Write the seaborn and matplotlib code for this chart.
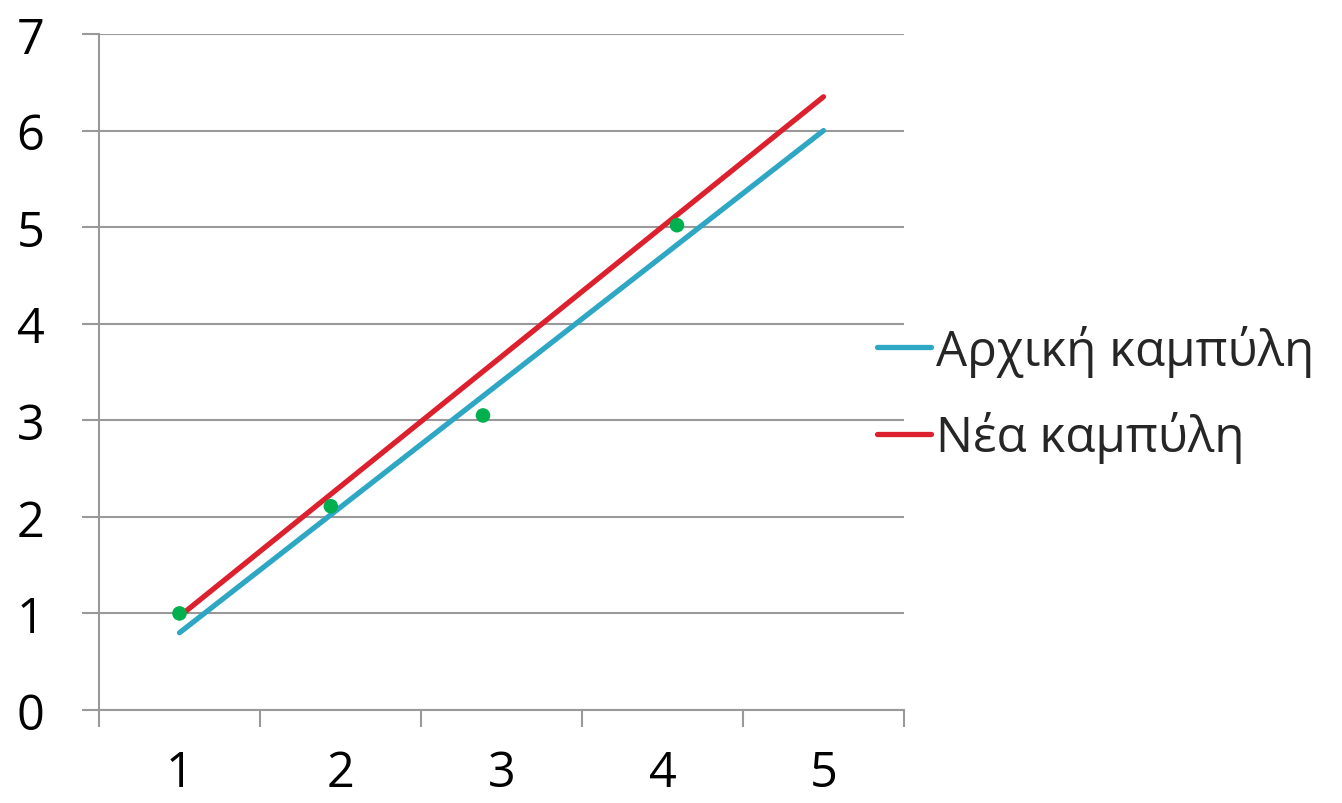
import numpy as np
import pandas as pd
import seaborn as sns
import matplotlib.pyplot as plt
from matplotlib.ticker import FixedLocator

# DATA
curve_names = ["Αρχική καμπύλη", "Νέα καμπύλη"]
curve_x = [1, 5]
initial_y = [0.8, 6.0]
new_y = [0.97, 6.35]
points_x = [1.0, 1.94, 2.885, 4.09]
points_y = [1.0, 2.11, 3.05, 5.02]
x_labels = ["1", "2", "3", "4", "5"]

lines = pd.DataFrame({
    "x": curve_x + curve_x,
    "y": initial_y + new_y,
    "curve": [curve_names[0]] * 2 + [curve_names[1]] * 2,
})
points = pd.DataFrame({"x": points_x, "y": points_y})

sns.set_theme(style="white")
plt.rcParams["font.family"] = ["Open Sans", "DejaVu Sans"]

grey = "#999999"
fig = plt.figure(figsize=(13.42, 8.04), dpi=100)
ax = fig.add_axes([99 / 1342, 1 - 711 / 804, (904 - 99) / 1342, (711 - 35) / 804])

sns.lineplot(data=lines, x="x", y="y", hue="curve",
             palette=["#2EA7C5", "#DD202E"], linewidth=3.8,
             solid_capstyle="round", ax=ax, legend=True)
sns.scatterplot(data=points, x="x", y="y", color="#00B04F", s=110,
                edgecolor="none", ax=ax, legend=False, zorder=5)

ax.set_xlim(0.5, 5.5)
ax.set_ylim(0, 7)
ax.set_xlabel("")
ax.set_ylabel("")

# y axis
ax.set_yticks(range(0, 8))
ax.yaxis.grid(True, color=grey, linewidth=1.5)
ax.set_axisbelow(True)
ax.tick_params(axis="y", which="major", direction="out", length=12.2,
               width=1.5, color=grey, pad=27, labelsize=35, labelcolor="black",
               left=True)

# x axis: ticks between categories, labels in the middle
ax.xaxis.set_major_locator(FixedLocator(np.arange(0.5, 5.6, 1)))
ax.xaxis.set_minor_locator(FixedLocator(range(1, 6)))
ax.set_xticklabels([], minor=False)
ax.set_xticklabels(x_labels, minor=True)
ax.tick_params(axis="x", which="major", direction="out", length=12.2,
               width=1.5, color=grey, bottom=True)
ax.tick_params(axis="x", which="minor", length=0, pad=28, labelsize=35,
               labelcolor="black", bottom=True)

for side in ["top", "right"]:
    ax.spines[side].set_visible(False)
for side in ["left", "bottom"]:
    ax.spines[side].set_color(grey)
    ax.spines[side].set_linewidth(1.5)

handles, labels = ax.get_legend_handles_labels()
ax.get_legend().remove()
fig.legend(handles, labels, loc="center left",
           bbox_to_anchor=(877 / 1342, 1 - 395 / 804), frameon=False,
           fontsize=35.5, handlelength=1.1, handletextpad=0.1,
           borderpad=0, borderaxespad=0, labelspacing=0.7)

fig.savefig("out.png", dpi=100)
